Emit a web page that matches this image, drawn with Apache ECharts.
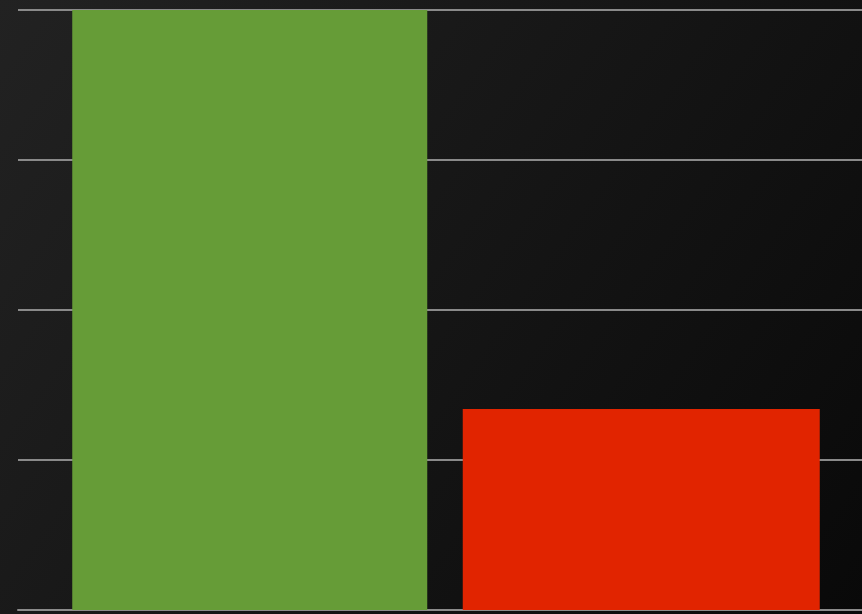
<!DOCTYPE html>
<html>
<head>
<meta charset="utf-8">
<script src="https://cdn.jsdelivr.net/npm/echarts@6/dist/echarts.min.js"></script>
<style>
  html, body { margin: 0; padding: 0; background: #111; }
  #main { width: 862px; height: 614px; }
</style>
</head>
<body>
<div id="main"></div>
<script>
// data
var categories = [''];
var seriesNames = ['Green', 'Red'];
var greenValues = [4];
var redValues = [1.34];
var yTicks = { min: 0, max: 4, interval: 1 };

var hidden = { show: false };
var myChart = echarts.init(document.getElementById('main'));
myChart.setOption({
  animation: false,
  backgroundColor: {
    type: 'linear', x: 0, y: 0, x2: 1, y2: 1,
    colorStops: [
      { offset: 0, color: '#222222' },
      { offset: 1, color: '#090909' }
    ]
  },
  // grid 0 carries the gridlines, grid 1 carries the bars
  grid: [
    { left: 18, top: 10, right: 0, bottom: 4 },
    { left: 30, top: 10, right: 0, bottom: 4 }
  ],
  xAxis: [
    {
      gridIndex: 0, type: 'category', data: categories,
      axisLine: { show: true, lineStyle: { color: '#8c8c8c', width: 2 } },
      axisTick: hidden, axisLabel: hidden
    },
    {
      gridIndex: 1, type: 'category', data: categories,
      axisLine: hidden, axisTick: hidden, axisLabel: hidden
    }
  ],
  yAxis: [
    {
      gridIndex: 0, type: 'value',
      min: yTicks.min, max: yTicks.max, interval: yTicks.interval,
      axisLine: hidden, axisTick: hidden, axisLabel: hidden,
      splitLine: { lineStyle: { color: '#8a8a8a', width: 2 } }
    },
    {
      gridIndex: 1, type: 'value',
      min: yTicks.min, max: yTicks.max, interval: yTicks.interval,
      axisLine: hidden, axisTick: hidden, axisLabel: hidden, splitLine: hidden
    }
  ],
  series: [
    {
      name: seriesNames[0], type: 'bar', data: greenValues,
      xAxisIndex: 1, yAxisIndex: 1,
      barWidth: 355, barGap: '10%',
      itemStyle: { color: '#669c37' }
    },
    {
      name: seriesNames[1], type: 'bar', data: redValues,
      xAxisIndex: 1, yAxisIndex: 1,
      barWidth: 357,
      itemStyle: { color: '#e12400' }
    }
  ]
});
</script>
</body>
</html>
